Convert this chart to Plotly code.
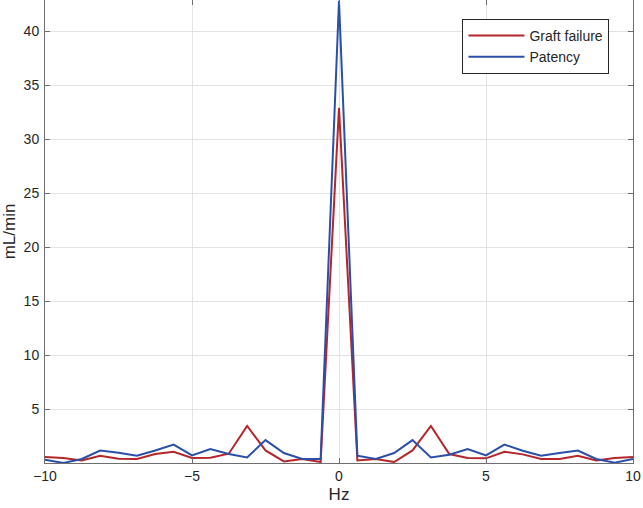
import plotly.graph_objects as go

# frequency bins (Hz), step 0.625
hz = [-10 + 0.625 * k for k in range(33)]

graft_failure = [0.55, 0.46, 0.24, 0.67, 0.40, 0.37, 0.83, 1.04, 0.46, 0.49, 0.86, 3.43, 1.16, 0.15, 0.37, 0.09,
                 32.9,
                 0.24, 0.37, 0.09, 1.16, 3.43, 0.83, 0.46, 0.43, 1.04, 0.80, 0.37, 0.37, 0.67, 0.24, 0.46, 0.55]
patency = [0.30, 0.00, 0.37, 1.16, 0.95, 0.67, 1.16, 1.71, 0.70, 1.29, 0.83, 0.52, 2.12, 0.92, 0.37, 0.37,
           42.8,
           0.67, 0.37, 0.92, 2.12, 0.52, 0.77, 1.29, 0.70, 1.71, 1.13, 0.67, 0.92, 1.16, 0.37, 0.03, 0.37]

axis_col = '#6e6e6e'
text_col = '#262626'
font = dict(family='Liberation Sans, Arial, sans-serif', size=14, color=text_col)

fig = go.Figure()
fig.add_trace(go.Scatter(x=hz, y=graft_failure, mode='lines', name='Graft failure',
                         line=dict(color='#B5252A', width=2)))
fig.add_trace(go.Scatter(x=hz, y=patency, mode='lines', name='Patency',
                         line=dict(color='#2B4FA8', width=2)))

fig.update_layout(
    width=643, height=508,
    margin=dict(l=45, r=10, t=0, b=45),
    plot_bgcolor='white',
    paper_bgcolor='white',
    font=font,
    legend=dict(x=0.96, y=0.959, xanchor='right', yanchor='top',
                bgcolor='white', bordercolor=text_col, borderwidth=1,
                itemwidth=56, font=dict(size=14)),
)
fig.update_xaxes(
    range=[-10, 10], tickvals=[-10, -5, 0, 5, 10],
    title=dict(text='Hz', standoff=5), automargin=False,
    showline=True, linecolor=axis_col, linewidth=1, mirror='ticks',
    ticks='inside', ticklen=5, tickcolor=axis_col,
    showgrid=True, gridcolor='#e3e3e3', zeroline=False,
)
fig.update_yaxes(
    range=[0, 42.87], tickvals=[5, 10, 15, 20, 25, 30, 35, 40],
    title=dict(text='mL/min', standoff=6), automargin=False,
    showline=True, linecolor=axis_col, linewidth=1, mirror='ticks',
    ticks='inside', ticklen=5, tickcolor=axis_col, ticklabelstandoff=2,
    showgrid=True, gridcolor='#e3e3e3', zeroline=False,
)

fig.write_html("out.html", config={'displayModeBar': False},
               post_script="document.body.style.margin='0px';")
